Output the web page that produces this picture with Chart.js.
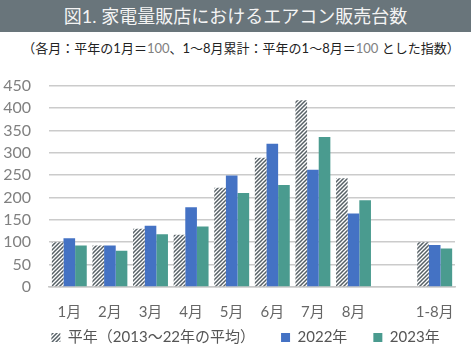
<!DOCTYPE html>
<html><head><meta charset="utf-8">
<script src="https://cdn.jsdelivr.net/npm/chart.js@4"></script>
<style>
html,body{margin:0;padding:0;background:#fff;width:475px;height:358px;overflow:hidden;font-family:Lato,"Noto Sans CJK JP",sans-serif;}
#title{position:absolute;left:0;top:0;width:471px;height:32px;background:#69757b;color:#f4f4f4;font-size:18px;line-height:32px;text-align:center;font-family:Lato,"Noto Sans CJK JP",sans-serif;}
#sub{position:absolute;left:0;top:38px;width:482px;text-align:center;font-size:13px;color:#222;white-space:nowrap;font-family:Lato,"Noto Sans CJK JP",sans-serif;}
#sub .g{color:#808080;}
#wrap{position:absolute;left:0;top:58px;width:475px;height:300px;}
</style></head><body>
<div id="title">図1.&nbsp;家電量販店におけるエアコン販売台数</div>
<div id="sub">（各月：平年の1月＝<span class="g">100</span>、1～8月累計：平年の1～8月＝<span class="g">100</span> とした指数）</div>
<div id="wrap"><canvas id="c" width="475" height="300"></canvas></div>
<script>
const categories = ["1月","2月","3月","4月","5月","6月","7月","8月","","1-8月"];
const avgValues = [100, 93, 130, 117, 222, 289, 417, 243, null, 100];
const v2022 = [109, 93, 137, 178, 249, 320, 262, 164, null, 94];
const v2023 = [93, 81, 118, 135, 210, 228, 335, 194, null, 86];
const seriesNames = ["平年（2013～22年の平均）","2022年","2023年"];
const yTicks = [0,50,100,150,200,250,300,350,400,450];

function hatch(){
  const p = document.createElement('canvas');
  p.width = 4; p.height = 4;
  const g = p.getContext('2d');
  g.fillStyle = '#ffffff'; g.fillRect(0,0,4,4);
  g.strokeStyle = '#566066'; g.lineWidth = 1.5;
  g.beginPath();
  g.moveTo(-1,5); g.lineTo(5,-1);
  g.moveTo(-1,1); g.lineTo(1,-1);
  g.moveTo(3,5); g.lineTo(5,3);
  g.stroke();
  return g.createPattern(p,'repeat');
}
const legendFix = {
  id:'legendFix',
  beforeUpdate(chart){
    const L = chart.legend;
    if (L && !L._patched){
      const f = L.fit.bind(L);
      L.fit = function(){ f(); this.height = Math.max(0, this.height - 38); };
      L._patched = true;
    }
  },
  afterLayout(chart){
    const L = chart.legend;
    if (L){
      L.top = 246; L.bottom = L.top + 60;
      L.left += 18; L.right += 18;
      if (L.adjustHitBoxes) L.adjustHitBoxes();
    }
  }
};
const ctx = document.getElementById('c').getContext('2d');
const font = {family:'Lato, "Noto Sans CJK JP", sans-serif', size:15};
new Chart(ctx,{
  type:'bar',
  data:{labels:categories,datasets:[
    {label:seriesNames[0],data:avgValues,backgroundColor:hatch(),borderWidth:0},
    {label:seriesNames[1],data:v2022,backgroundColor:'#4472c4',borderWidth:0},
    {label:seriesNames[2],data:v2023,backgroundColor:'#4a9b8f',borderWidth:0}
  ]},
  plugins:[legendFix],
  options:{
    responsive:false,animation:false,
    layout:{padding:{left:0,right:20,top:18,bottom:16}},
    datasets:{bar:{categoryPercentage:0.86,barPercentage:1}},
    plugins:{
      title:{display:false},
      tooltip:{enabled:false},
      legend:{position:'bottom',labels:{boxWidth:9,boxHeight:9,padding:26,color:'#555',font:font}}
    },
    scales:{
      x:{grid:{display:false},border:{display:true,color:'#c8c8c8',width:1.5},
         ticks:{color:'#666',font:font,padding:8,maxRotation:0,autoSkip:false}},
      y:{min:0,max:450,afterBuildTicks:(a)=>{a.ticks=yTicks.map(v=>({value:v}));},
         afterFit:(s)=>{s.width=49;},
         grid:{color:'#cbcbcb',lineWidth:1.5,drawTicks:false},border:{display:false},
         ticks:{color:'#808080',font:{family:font.family,size:16},padding:18,autoSkip:false}}
    }
  }
});
</script>
</body></html>
